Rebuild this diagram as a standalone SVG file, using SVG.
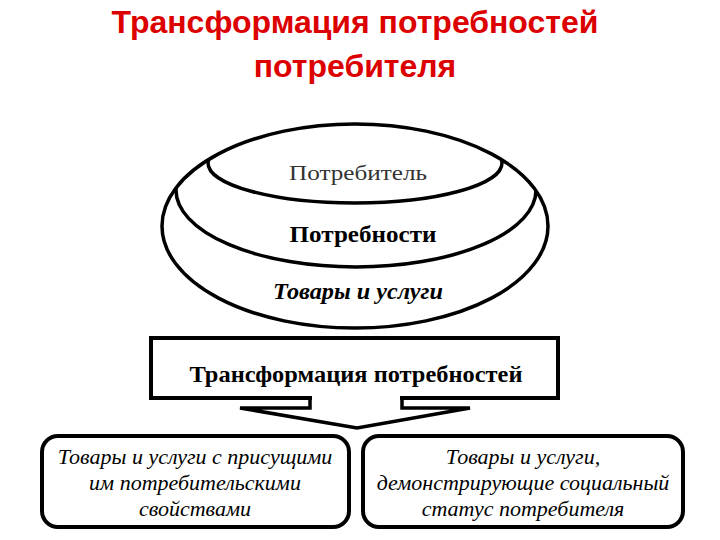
<svg xmlns="http://www.w3.org/2000/svg" width="720" height="540" viewBox="0 0 720 540">
<style>
.title{font-family:"Liberation Sans",Arial,sans-serif;font-weight:bold;font-size:32px;fill:#dc0000;text-anchor:middle}
.ser{font-family:"Liberation Serif","Times New Roman",serif;text-anchor:middle;fill:#000}
.ln{fill:none;stroke:#000;stroke-width:3.5}
.box{fill:#fff;stroke:#000;stroke-width:4}
.it{font-family:"Liberation Serif","Times New Roman",serif;font-style:italic;font-size:22px;text-anchor:middle;fill:#000}
</style>
<defs>
<clipPath id="outerClip"><ellipse cx="355" cy="226" rx="193" ry="102"/></clipPath>
</defs>
<rect width="720" height="540" fill="#fff"/>
<g id="title">
<text class="title" x="355" y="33">Трансформация потребностей</text>
<text class="title" x="355" y="77">потребителя</text>
</g>
<g id="goods">
<ellipse cx="355" cy="226" rx="193" ry="102" fill="#fff"/>
<text class="ser" x="358" y="299" font-size="24" font-weight="bold" font-style="italic" textLength="170" lengthAdjust="spacingAndGlyphs">Товары и услуги</text>
</g>
<g id="needs" clip-path="url(#outerClip)">
<ellipse class="ln" cx="356" cy="190" rx="180" ry="77"/>
<text class="ser" x="363" y="242" font-size="23" font-weight="bold" textLength="147" lengthAdjust="spacingAndGlyphs">Потребности</text>
</g>
<g id="consumer" clip-path="url(#outerClip)">
<ellipse class="ln" cx="355" cy="163" rx="147" ry="40" fill="#fff"/>
<text class="ser" x="358" y="180" font-size="22" style="fill:#333" textLength="138" lengthAdjust="spacingAndGlyphs">Потребитель</text>
</g>
<ellipse class="ln" cx="355" cy="226" rx="193" ry="102"/>
<g id="transform">
<rect class="box" x="151" y="338" width="407" height="60"/>
<text class="ser" x="356" y="382" font-size="23" font-weight="bold" textLength="333" lengthAdjust="spacingAndGlyphs">Трансформация потребностей</text>
</g>
<g id="connectors">
<polygon points="310,398 310,408 240,408 357,428 470,408 402,408 402,398" fill="#fff" stroke="#000" stroke-width="3.5" stroke-linejoin="miter"/>
<line x1="312" y1="398" x2="400" y2="398" stroke="#fff" stroke-width="5"/>
</g>
<g id="left-box">
<rect class="box" x="42" y="436" width="307" height="91" rx="16" ry="16"/>
<text class="it" x="195" y="464">Товары и услуги с присущими</text>
<text class="it" x="195" y="490">им потребительскими</text>
<text class="it" x="195" y="516">свойствами</text>
</g>
<g id="right-box">
<rect class="box" x="363" y="436" width="320" height="91" rx="16" ry="16"/>
<text class="it" x="523" y="464">Товары и услуги,</text>
<text class="it" x="523" y="490">демонстрирующие социальный</text>
<text class="it" x="523" y="516">статус потребителя</text>
</g>
</svg>
